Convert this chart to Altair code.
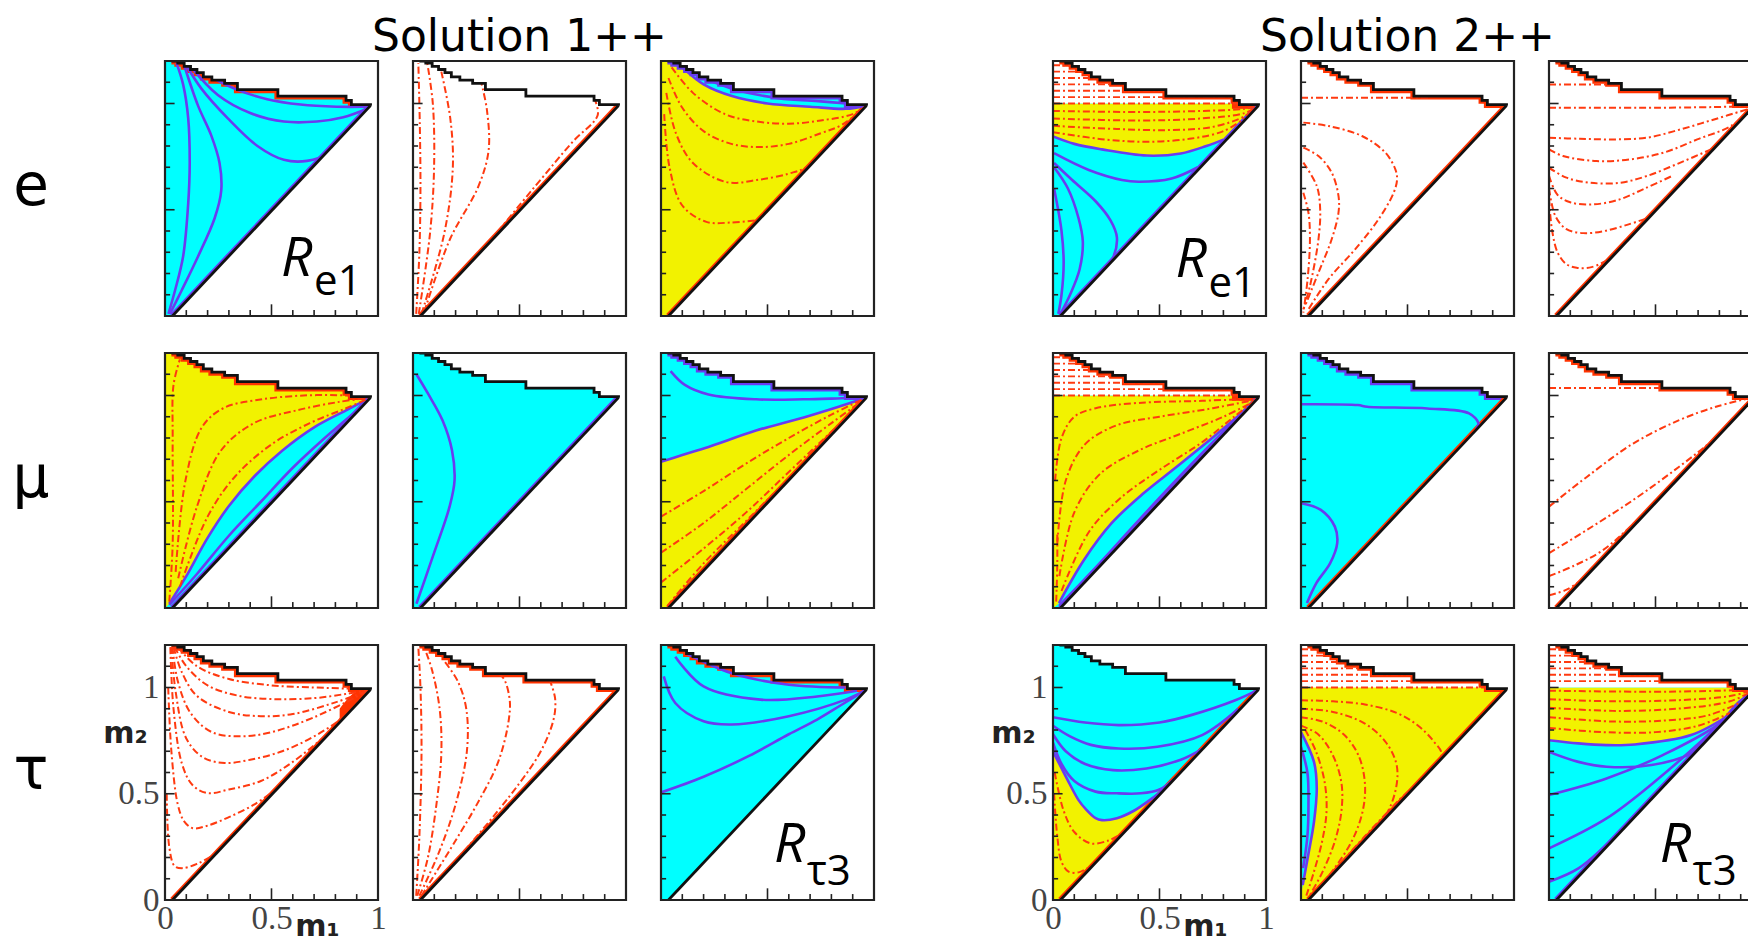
import altair as alt
import pandas as pd

# ---------------- kinematic region shared by every panel (data coords) ----------------
TOP_X = [0.03, 0.06, 0.09, 0.12, 0.15, 0.18, 0.22, 0.28, 0.34, 0.53, 0.85, 0.875, 0.965]
TOP_Y = [1.20, 1.19, 1.175, 1.16, 1.145, 1.125, 1.11, 1.095, 1.065, 1.035, 1.015, 0.995, 0.99]
DIAG_X = [0.035, 0.965]
DIAG_Y = [0.0, 0.99]
EDGE_X = [0.0, 0.035, 0.965, 0.966, 1.0]
EDGE_Y = [0.0, 0.0, 0.99, 1.2, 1.2]

X_MINOR = [0.1, 0.2, 0.3, 0.4, 0.6, 0.7, 0.8, 0.9]
X_MAJOR = [0.5]
Y_MINOR = [0.1, 0.2, 0.3, 0.4, 0.6, 0.7, 0.8, 0.9, 1.1]
Y_MAJOR = [0.5, 1.0]
AXIS_VALUES = [0, 0.5, 1]
STRIPES = [1.03, 1.06, 1.09, 1.12, 1.15, 1.18]

TITLES = ["Solution 1++", "Solution 2++"]
ROW_LABELS = ["e", "μ", "τ"]

# ---------------- Solution 1++ ----------------
S1_E1_BLUE = [
    [(0.016, 0.01), (0.047, 0.12), (0.085, 0.28), (0.109, 0.53), (0.116, 0.72), (0.109, 0.93), (0.085, 1.09), (0.054, 1.19)],
    [(0.023, 0.01), (0.078, 0.12), (0.155, 0.28), (0.233, 0.46), (0.264, 0.59), (0.256, 0.72), (0.217, 0.85), (0.155, 0.99), (0.09, 1.18)],
    [(0.10, 1.18), (0.171, 1.07), (0.295, 0.93), (0.434, 0.80), (0.558, 0.735), (0.667, 0.73), (0.76, 0.765), (0.80, 0.82)],
    [(0.124, 1.17), (0.248, 1.04), (0.40, 0.955), (0.558, 0.915), (0.713, 0.915), (0.837, 0.935), (0.95, 0.975)],
    [(0.17, 1.15), (0.326, 1.07), (0.48, 1.02), (0.636, 0.995), (0.806, 0.985), (0.95, 0.985)],
]
S1_E2_RED = [
    [(0.015, 0.01), (0.03, 0.3), (0.035, 0.6), (0.032, 0.9), (0.025, 1.19)],
    [(0.027, 0.01), (0.08, 0.39), (0.099, 0.70), (0.093, 1.0), (0.067, 1.19)],
    [(0.04, 0.01), (0.147, 0.39), (0.187, 0.70), (0.175, 0.93), (0.133, 1.15)],
    [(0.053, 0.02), (0.173, 0.36), (0.307, 0.61), (0.355, 0.78), (0.347, 0.97), (0.32, 1.1)],
    [(0.067, 0.03), (0.307, 0.29), (0.573, 0.61), (0.75, 0.82), (0.867, 0.945), (0.853, 1.02)],
]
S1_E3_FILL = [("cyan", "v", [(0.10, 1.17, 1.2), (0.2, 1.09, 1.2), (0.333, 1.035, 1.2), (0.5, 1.0, 1.2),
                             (0.7, 0.985, 1.2), (0.867, 0.975, 1.2), (0.965, 0.99, 1.2)])]
S1_E3_BLUE = [
    [(0.10, 1.17), (0.2, 1.09), (0.333, 1.035), (0.5, 1.0), (0.7, 0.985), (0.867, 0.975), (0.965, 0.99)],
    [(0.2, 1.12), (0.35, 1.065), (0.55, 1.025), (0.75, 1.01), (0.87, 1.0)],
]
S1_E3_RED = [
    [(0.05, 1.17), (0.15, 1.05), (0.3, 0.95), (0.45, 0.915), (0.6, 0.905), (0.75, 0.92), (0.9, 0.95), (0.965, 0.99)],
    [(0.035, 1.12), (0.1, 0.98), (0.2, 0.87), (0.33, 0.81), (0.467, 0.795), (0.6, 0.81), (0.75, 0.86), (0.85, 0.9), (0.965, 0.99)],
    [(0.025, 1.05), (0.07, 0.86), (0.15, 0.72), (0.307, 0.63), (0.45, 0.64), (0.6, 0.67), (0.7, 0.71), (0.965, 0.99)],
    [(0.015, 0.95), (0.04, 0.7), (0.1, 0.52), (0.213, 0.443), (0.33, 0.44), (0.45, 0.45)],
]
S1_M1_FILL = [("cyan", "v", [(0.0, 0.0, 0.0), (0.02, 0.0, 0.02), (0.1, 0.0, 0.15), (0.2, 0.0, 0.33), (0.3, 0.0, 0.48),
                             (0.42, 0.0, 0.62), (0.55, 0.0, 0.74), (0.7, 0.0, 0.85), (0.85, 0.0, 0.93), (0.965, 0.0, 0.99)])]
S1_M1_BLUE = [
    [(0.02, 0.02), (0.1, 0.15), (0.2, 0.33), (0.3, 0.48), (0.42, 0.62), (0.55, 0.74), (0.7, 0.85), (0.85, 0.93), (0.965, 0.99)],
    [(0.02, 0.015), (0.15, 0.16), (0.3, 0.34), (0.45, 0.5), (0.6, 0.66), (0.75, 0.8), (0.9, 0.93), (0.965, 0.99)],
]
S1_M1_RED = [
    [(0.02, 0.03), (0.036, 0.3), (0.036, 0.8), (0.04, 1.05), (0.07, 1.17)],
    [(0.05, 0.17), (0.096, 0.60), (0.173, 0.85), (0.273, 0.94), (0.44, 0.98), (0.65, 1.0), (0.85, 1.0), (0.965, 0.99)],
    [(0.062, 0.14), (0.151, 0.48), (0.262, 0.74), (0.418, 0.87), (0.618, 0.93), (0.818, 0.97), (0.965, 0.99)],
    [(0.07, 0.1), (0.2, 0.43), (0.33, 0.62), (0.5, 0.77), (0.68, 0.87), (0.85, 0.94), (0.965, 0.99)],
]
S1_M2_BLUE = [
    [(0.016, 0.02), (0.094, 0.245), (0.172, 0.478), (0.195, 0.60), (0.183, 0.742), (0.139, 0.882), (0.072, 1.006), (0.016, 1.10)],
]
S1_M3_FILL = [("cyan", "v", [(0.0, 0.688, 1.2), (0.1, 0.72, 1.2), (0.223, 0.758, 1.2), (0.446, 0.835, 1.2),
                             (0.67, 0.897, 1.2), (0.848, 0.952, 1.2), (0.965, 0.99, 1.2)])]
S1_M3_BLUE = [
    [(0.0, 0.688), (0.1, 0.72), (0.223, 0.758), (0.446, 0.835), (0.67, 0.897), (0.848, 0.952), (0.965, 0.99)],
    [(0.045, 1.115), (0.112, 1.05), (0.223, 1.005), (0.446, 0.982), (0.67, 0.982), (0.848, 0.987), (0.95, 0.99)],
]
S1_M3_RED = [
    [(0.0, 0.43), (0.2, 0.55), (0.4, 0.68), (0.6, 0.80), (0.8, 0.91), (0.965, 0.99)],
    [(0.0, 0.26), (0.2, 0.40), (0.4, 0.56), (0.6, 0.72), (0.8, 0.87), (0.965, 0.99)],
    [(0.0, 0.12), (0.2, 0.28), (0.4, 0.45), (0.6, 0.64), (0.8, 0.83), (0.965, 0.99)],
    [(0.03, 0.01), (0.2, 0.21), (0.4, 0.41), (0.6, 0.61), (0.8, 0.81), (0.965, 0.99)],
]
S1_T1_FILL = [("red", "v", [(0.82, 0.84, 0.9), (0.88, 0.9, 0.97), (0.93, 0.95, 0.995), (0.965, 0.99, 0.99)])]
S1_T1_RED = [
    [(0.06, 1.19), (0.15, 1.1), (0.3, 1.04), (0.5, 1.01), (0.7, 1.0), (0.85, 0.995), (0.965, 0.99)],
    [(0.045, 1.19), (0.1, 1.1), (0.2, 1.01), (0.35, 0.96), (0.52, 0.945), (0.7, 0.95), (0.85, 0.97), (0.965, 0.99)],
    [(0.04, 1.19), (0.08, 1.07), (0.15, 0.96), (0.3, 0.885), (0.45, 0.865), (0.6, 0.875), (0.8, 0.93), (0.965, 0.99)],
    [(0.035, 1.19), (0.06, 1.03), (0.12, 0.88), (0.22, 0.79), (0.36, 0.77), (0.5, 0.79), (0.7, 0.86), (0.965, 0.99)],
    [(0.03, 1.19), (0.05, 0.98), (0.1, 0.76), (0.18, 0.67), (0.28, 0.645), (0.4, 0.66), (0.55, 0.7), (0.7, 0.77), (0.85, 0.87), (0.965, 0.99)],
    [(0.025, 1.19), (0.04, 0.9), (0.08, 0.64), (0.13, 0.54), (0.2, 0.503), (0.3, 0.52), (0.45, 0.56), (0.6, 0.65), (0.75, 0.77)],
    [(0.015, 1.0), (0.03, 0.7), (0.06, 0.45), (0.09, 0.37), (0.13, 0.338), (0.2, 0.35), (0.3, 0.39), (0.42, 0.45), (0.52, 0.52)],
    [(0.008, 0.5), (0.02, 0.25), (0.045, 0.16), (0.08, 0.15), (0.15, 0.17), (0.25, 0.23), (0.3, 0.29)],
]
S1_T2_RED = [
    [(0.015, 0.02), (0.03, 0.3), (0.04, 0.7), (0.035, 1.0), (0.025, 1.19)],
    [(0.02, 0.02), (0.07, 0.2), (0.11, 0.45), (0.133, 0.69), (0.125, 0.9), (0.09, 1.08), (0.06, 1.17)],
    [(0.03, 0.02), (0.12, 0.22), (0.2, 0.45), (0.253, 0.7), (0.25, 0.9), (0.21, 1.03), (0.15, 1.12)],
    [(0.04, 0.02), (0.2, 0.28), (0.3, 0.45), (0.4, 0.65), (0.45, 0.85), (0.453, 0.95), (0.42, 1.05), (0.35, 1.09)],
    [(0.05, 0.02), (0.3, 0.3), (0.5, 0.55), (0.6, 0.7), (0.66, 0.85), (0.667, 0.95), (0.64, 1.04)],
]
S1_T3_BLUE = [
    [(0.0, 0.506), (0.2, 0.58), (0.413, 0.678), (0.6, 0.78), (0.733, 0.849), (0.85, 0.92), (0.965, 0.99)],
    [(0.013, 1.052), (0.067, 0.927), (0.2, 0.841), (0.333, 0.826), (0.6, 0.865), (0.867, 0.943), (0.965, 0.99)],
    [(0.067, 1.145), (0.2, 1.005), (0.467, 0.943), (0.733, 0.958), (0.92, 0.985)],
    [(0.12, 1.16), (0.333, 1.067), (0.6, 1.013), (0.867, 1.0)],
]

# ---------------- Solution 2++ ----------------
S2_E1_FILL = [
    ("yellow", "v", [(0.0, 0.845, 1.0), (0.1, 0.81, 1.0), (0.23, 0.784, 1.0), (0.44, 0.755, 1.0), (0.6, 0.765, 1.0),
                     (0.72, 0.8, 1.0), (0.8, 0.83, 1.0), (0.965, 0.99, 1.0)]),
    ("white", "v", [(0.0, 1.0, 1.2), (1.0, 1.0, 1.2)]),
    ("red", "v", [(0.84, 0.975, 1.04), (0.97, 0.975, 1.04)]),
]
S2_E1_BLUE = [
    [(0.0, 0.845), (0.1, 0.81), (0.23, 0.784), (0.44, 0.755), (0.6, 0.765), (0.72, 0.8), (0.8, 0.83)],
    [(0.005, 0.766), (0.168, 0.687), (0.324, 0.64), (0.402, 0.632), (0.557, 0.647), (0.68, 0.7)],
    [(0.005, 0.72), (0.09, 0.64), (0.2, 0.54), (0.27, 0.45), (0.3, 0.37), (0.28, 0.27), (0.2, 0.17), (0.1, 0.07), (0.04, 0.01)],
    [(0.005, 0.70), (0.07, 0.6), (0.12, 0.46), (0.14, 0.35), (0.125, 0.22), (0.08, 0.1), (0.035, 0.01)],
    [(0.005, 0.6), (0.04, 0.4), (0.05, 0.25), (0.04, 0.1), (0.025, 0.01)],
]
S2_E1_RED = [
    [(0.0, 1.0), (0.9, 1.0)],
    [(0.0, 0.965), (0.4, 0.96), (0.7, 0.965), (0.9, 0.975), (0.965, 0.99)],
    [(0.0, 0.93), (0.4, 0.92), (0.7, 0.93), (0.9, 0.955), (0.965, 0.99)],
    [(0.0, 0.895), (0.3, 0.88), (0.55, 0.875), (0.75, 0.89), (0.9, 0.94), (0.965, 0.99)],
    [(0.0, 0.865), (0.25, 0.83), (0.45, 0.82), (0.65, 0.835), (0.8, 0.87), (0.9, 0.93)],
]
S2_E2_RED = [
    [(0.0, 1.027), (0.6, 1.027)],
    [(0.011, 0.91), (0.129, 0.894), (0.286, 0.847), (0.396, 0.769), (0.443, 0.69), (0.451, 0.643), (0.435, 0.58),
     (0.364, 0.455), (0.254, 0.314), (0.129, 0.173), (0.035, 0.031)],
    [(0.011, 0.792), (0.082, 0.753), (0.144, 0.675), (0.176, 0.565), (0.176, 0.486), (0.144, 0.361), (0.082, 0.204), (0.019, 0.047)],
    [(0.011, 0.722), (0.074, 0.612), (0.09, 0.502), (0.082, 0.361), (0.042, 0.141), (0.011, 0.031)],
    [(0.011, 0.58), (0.035, 0.486), (0.042, 0.361), (0.031, 0.173), (0.011, 0.016)],
]
S2_E3_RED = [
    [(0.0, 0.98), (0.5, 0.98), (0.85, 0.985), (0.965, 0.99)],
    [(0.0, 1.09), (0.3, 1.09)],
    [(0.0, 0.839), (0.145, 0.834), (0.302, 0.831), (0.46, 0.839), (0.617, 0.878), (0.775, 0.925), (0.932, 0.973)],
    [(0.0, 0.784), (0.066, 0.753), (0.224, 0.729), (0.381, 0.737), (0.539, 0.769), (0.696, 0.831), (0.854, 0.894), (0.964, 0.985)],
    [(0.0, 0.698), (0.082, 0.651), (0.192, 0.627), (0.334, 0.627), (0.46, 0.659), (0.617, 0.722), (0.775, 0.79)],
    [(0.0, 0.66), (0.04, 0.57), (0.1, 0.535), (0.2, 0.525), (0.32, 0.545), (0.45, 0.6), (0.58, 0.66)],
    [(0.0, 0.6), (0.03, 0.47), (0.08, 0.41), (0.16, 0.39), (0.26, 0.4), (0.37, 0.43), (0.46, 0.46)],
    [(0.0, 0.55), (0.015, 0.4), (0.04, 0.3), (0.08, 0.245), (0.13, 0.227), (0.2, 0.23), (0.27, 0.26)],
]
S2_M1_FILL = [
    ("yellow", "v", [(0.0, 0.0, 1.0), (0.028, 0.023, 1.0), (0.146, 0.227, 1.0), (0.275, 0.399, 1.0), (0.425, 0.54, 1.0),
                     (0.575, 0.66, 1.0), (0.747, 0.80, 1.0), (0.876, 0.91, 1.0), (0.965, 0.99, 1.0)]),
    ("white", "v", [(0.0, 1.0, 1.2), (1.0, 1.0, 1.2)]),
    ("red", "v", [(0.84, 0.975, 1.04), (0.97, 0.975, 1.04)]),
]
S2_M1_BLUE = [
    [(0.028, 0.023), (0.146, 0.227), (0.275, 0.399), (0.425, 0.54), (0.575, 0.66), (0.747, 0.80), (0.876, 0.91), (0.965, 0.99)],
    [(0.03, 0.012), (0.2, 0.19), (0.4, 0.41), (0.6, 0.625), (0.8, 0.83), (0.965, 0.99)],
]
S2_M1_RED = [
    [(0.0, 1.0), (0.9, 1.0)],
    [(0.01, 0.6), (0.04, 0.8), (0.1, 0.9), (0.2, 0.94), (0.4, 0.965), (0.7, 0.975), (0.95, 0.985)],
    [(0.02, 0.3), (0.06, 0.6), (0.15, 0.77), (0.3, 0.86), (0.5, 0.9), (0.75, 0.94), (0.95, 0.98)],
    [(0.03, 0.15), (0.1, 0.45), (0.22, 0.63), (0.4, 0.74), (0.6, 0.82), (0.8, 0.9), (0.95, 0.975)],
    [(0.04, 0.08), (0.17, 0.36), (0.32, 0.52), (0.5, 0.65), (0.7, 0.78), (0.85, 0.9), (0.965, 0.99)],
    [(0.015, 0.03), (0.02, 0.2), (0.02, 0.35)],
]
S2_M2_BLUE = [
    [(0.0, 0.959), (0.267, 0.955), (0.311, 0.947), (0.593, 0.939), (0.789, 0.916), (0.833, 0.869), (0.822, 0.842)],
    [(0.0, 0.493), (0.093, 0.462), (0.159, 0.383), (0.17, 0.305), (0.137, 0.211), (0.072, 0.117), (0.028, 0.023)],
]
S2_M3_RED = [
    [(0.0, 1.035), (0.55, 1.035)],
    [(0.0, 0.477), (0.179, 0.618), (0.395, 0.774), (0.611, 0.884), (0.784, 0.947), (0.935, 0.986)],
    [(0.0, 0.258), (0.179, 0.368), (0.395, 0.508), (0.611, 0.665), (0.78, 0.8), (0.93, 0.955)],
    [(0.0, 0.15), (0.12, 0.2), (0.25, 0.27), (0.4, 0.4), (0.6, 0.6), (0.8, 0.82), (0.95, 0.975)],
    [(0.0, 0.06), (0.08, 0.085), (0.15, 0.13)],
]
S2_T1_FILL = [("yellow", "v", [(0.0, 0.0, 0.70), (0.04, 0.0, 0.62), (0.073, 0.0, 0.556), (0.12, 0.0, 0.47), (0.151, 0.0, 0.431),
                               (0.2, 0.0, 0.385), (0.23, 0.0, 0.376), (0.3, 0.0, 0.385), (0.38, 0.0, 0.42), (0.465, 0.0, 0.478),
                               (0.52, 0.0, 0.52)])]
S2_T1_BLUE = [
    [(0.0, 0.70), (0.04, 0.62), (0.073, 0.556), (0.12, 0.47), (0.151, 0.431), (0.2, 0.385), (0.23, 0.376), (0.3, 0.385),
     (0.38, 0.42), (0.465, 0.478), (0.52, 0.52)],
    [(0.0, 0.86), (0.15, 0.835), (0.308, 0.823), (0.5, 0.835), (0.648, 0.87), (0.856, 0.94), (0.965, 0.99)],
    [(0.0, 0.82), (0.08, 0.77), (0.178, 0.73), (0.308, 0.713), (0.49, 0.721), (0.7, 0.776), (0.87, 0.9)],
    [(0.0, 0.78), (0.06, 0.7), (0.151, 0.64), (0.282, 0.611), (0.439, 0.619), (0.6, 0.66), (0.7, 0.71)],
    [(0.0, 0.74), (0.04, 0.64), (0.1, 0.56), (0.2, 0.51), (0.3, 0.502), (0.413, 0.502), (0.5, 0.52), (0.57, 0.57)],
]
S2_T1_RED = [
    [(0.008, 0.6), (0.05, 0.42), (0.1, 0.32), (0.178, 0.266), (0.26, 0.28), (0.32, 0.31)],
    [(0.005, 0.5), (0.02, 0.3), (0.04, 0.18), (0.073, 0.133), (0.12, 0.13), (0.16, 0.15)],
]
S2_T2_FILL = [
    ("white", "v", [(0.0, 1.0, 1.2), (1.0, 1.0, 1.2)]),
    ("cyan", "h", [(0.02, 0.0, 0.0), (0.07, 0.0, 0.008), (0.212, 0.0, 0.034), (0.368, 0.0, 0.061), (0.525, 0.0, 0.074),
                   (0.65, 0.0, 0.061), (0.79, 0.0, 0.0)]),
]
S2_T2_BLUE = [
    [(0.0, 0.79), (0.061, 0.65), (0.074, 0.525), (0.061, 0.368), (0.034, 0.212), (0.008, 0.07)],
    [(0.0, 0.72), (0.03, 0.6), (0.035, 0.45), (0.03, 0.3), (0.01, 0.15)],
]
S2_T2_RED = [
    [(0.0, 1.0), (0.9, 1.0)],
    [(0.0, 0.94), (0.15, 0.935), (0.3, 0.92), (0.45, 0.88), (0.55, 0.82), (0.62, 0.75), (0.66, 0.68), (0.45, 0.46), (0.3, 0.3), (0.05, 0.02)],
    [(0.0, 0.9), (0.15, 0.885), (0.3, 0.83), (0.4, 0.74), (0.45, 0.63), (0.44, 0.5), (0.38, 0.37), (0.26, 0.25), (0.14, 0.11), (0.05, 0.02)],
    [(0.0, 0.86), (0.1, 0.84), (0.2, 0.78), (0.27, 0.68), (0.3, 0.55), (0.29, 0.42), (0.24, 0.28), (0.15, 0.14), (0.05, 0.02)],
    [(0.0, 0.82), (0.08, 0.78), (0.15, 0.68), (0.19, 0.55), (0.19, 0.42), (0.16, 0.28), (0.1, 0.13), (0.04, 0.02)],
    [(0.02, 0.8), (0.07, 0.7), (0.11, 0.56), (0.12, 0.42), (0.1, 0.28), (0.06, 0.13), (0.025, 0.02)],
]
S2_T3_FILL = [
    ("yellow", "v", [(0.0, 0.752, 1.0), (0.138, 0.737, 1.0), (0.27, 0.729, 1.0), (0.402, 0.732, 1.0), (0.667, 0.776, 1.0),
                     (0.852, 0.874, 1.0), (0.965, 0.99, 1.0)]),
    ("white", "v", [(0.0, 1.0, 1.2), (1.0, 1.0, 1.2)]),
    ("blue", "v", [(0.8, 0.8, 0.83), (0.88, 0.88, 0.93), (0.965, 0.99, 0.99)]),
]
S2_T3_BLUE = [
    [(0.0, 0.752), (0.138, 0.737), (0.27, 0.729), (0.402, 0.732), (0.667, 0.776), (0.852, 0.874)],
    [(0.0, 0.697), (0.138, 0.65), (0.27, 0.627), (0.481, 0.635), (0.667, 0.69), (0.75, 0.76)],
    [(0.0, 0.494), (0.27, 0.572), (0.534, 0.682), (0.8, 0.83), (0.965, 0.99)],
    [(0.0, 0.243), (0.27, 0.384), (0.5, 0.56), (0.75, 0.78), (0.965, 0.99)],
    [(0.0, 0.086), (0.14, 0.15), (0.3, 0.29), (0.5, 0.505), (0.75, 0.77), (0.965, 0.99)],
]
S2_T3_RED = [
    [(0.0, 0.985), (0.5, 0.98), (0.8, 0.985), (0.965, 0.99)],
    [(0.0, 0.945), (0.3, 0.935), (0.6, 0.94), (0.85, 0.96), (0.965, 0.99)],
    [(0.0, 0.905), (0.3, 0.89), (0.6, 0.9), (0.85, 0.935), (0.965, 0.99)],
    [(0.0, 0.86), (0.3, 0.84), (0.55, 0.845), (0.75, 0.87), (0.9, 0.93)],
    [(0.0, 0.81), (0.25, 0.79), (0.5, 0.79), (0.7, 0.82), (0.85, 0.88)],
]

# ---------------- styles & layout ----------------
COLORS = {"cyan": "#00FFFF", "yellow": "#F2F200", "white": "#FFFFFF", "red": "#FF3300", "blue": "#6A3CF0"}
RED_LINE = "#FF3A10"
BLUE_LINE = "#6A3CF0"
DASH = [7, 3, 2, 3]
PW, PH = 213, 255
LABEL_W, GAP_W, TITLE_H = 122, 109, 15
XS = alt.Scale(domain=[0, 1], nice=False, zero=False)
YS = alt.Scale(domain=[0, 1.2], nice=False, zero=False)

R_E1_1 = {"R": (0.545, 0.19), "sub": (0.70, 0.10), "text": "e1"}
R_E1_2 = {"R": (0.575, 0.185), "sub": (0.73, 0.09), "text": "e1"}
R_T3_1 = {"R": (0.53, 0.18), "sub": (0.685, 0.07), "text": "τ3"}
R_T3_2 = {"R": (0.52, 0.18), "sub": (0.675, 0.07), "text": "τ3"}

PANELS = [
    [  # row e
        dict(base="cyan", fills=[], blue=S1_E1_BLUE, red=[], stripes=False, ftop="red", fdiag="blue", rl=R_E1_1),
        dict(base="white", fills=[], blue=[], red=S1_E2_RED, stripes=False, ftop=None, fdiag="red"),
        dict(base="yellow", fills=S1_E3_FILL, blue=S1_E3_BLUE, red=S1_E3_RED, stripes=False, ftop="blue", fdiag="red"),
        dict(base="cyan", fills=S2_E1_FILL, blue=S2_E1_BLUE, red=S2_E1_RED, stripes=True, ftop="red", fdiag="blue", rl=R_E1_2),
        dict(base="white", fills=[], blue=[], red=S2_E2_RED, stripes=False, ftop="red", fdiag="red"),
        dict(base="white", fills=[], blue=[], red=S2_E3_RED, stripes=False, ftop="red", fdiag="red"),
    ],
    [  # row mu
        dict(base="yellow", fills=S1_M1_FILL, blue=S1_M1_BLUE, red=S1_M1_RED, stripes=False, ftop="red", fdiag="blue"),
        dict(base="cyan", fills=[], blue=S1_M2_BLUE, red=[], stripes=False, ftop=None, fdiag="blue"),
        dict(base="yellow", fills=S1_M3_FILL, blue=S1_M3_BLUE, red=S1_M3_RED, stripes=False, ftop="blue", fdiag="red"),
        dict(base="cyan", fills=S2_M1_FILL, blue=S2_M1_BLUE, red=S2_M1_RED, stripes=True, ftop="red", fdiag="blue"),
        dict(base="cyan", fills=[], blue=S2_M2_BLUE, red=[], stripes=False, ftop="blue", fdiag="red"),
        dict(base="white", fills=[], blue=[], red=S2_M3_RED, stripes=False, ftop="red", fdiag="red"),
    ],
    [  # row tau
        dict(base="white", fills=S1_T1_FILL, blue=[], red=S1_T1_RED, stripes=False, ftop="red", fdiag="red", axes=True),
        dict(base="white", fills=[], blue=[], red=S1_T2_RED, stripes=False, ftop="red", fdiag="red"),
        dict(base="cyan", fills=[], blue=S1_T3_BLUE, red=[], stripes=False, ftop="red", fdiag=None, rl=R_T3_1),
        dict(base="cyan", fills=S2_T1_FILL, blue=S2_T1_BLUE, red=S2_T1_RED, stripes=False, ftop=None, fdiag="red", axes=True),
        dict(base="yellow", fills=S2_T2_FILL, blue=S2_T2_BLUE, red=S2_T2_RED, stripes=True, ftop="red", fdiag="red"),
        dict(base="cyan", fills=S2_T3_FILL, blue=S2_T3_BLUE, red=S2_T3_RED, stripes=True, ftop="red", fdiag="blue", rl=R_T3_2),
    ],
]


def curves_df(curves):
    rows = []
    for cid, pts in enumerate(curves):
        for i, (x, y) in enumerate(pts):
            rows.append({"cid": cid, "i": i, "x": x, "y": y})
    return pd.DataFrame(rows)


def build_panel(p):
    ax_x = ax_y = None
    if p.get("axes"):
        common = dict(values=AXIS_VALUES, format="~g", ticks=False, domain=False, grid=False,
                      labelFont="Liberation Serif", labelFontSize=33, labelColor="#444444",
                      labelFlush=False, labelOverlap=False, titleFont="DejaVu Sans", titleFontSize=30,
                      titleFontWeight="bold", titleColor="#222222", titleAngle=0, titleAlign="center")
        ax_x = alt.Axis(labelPadding=2, title="m₁", titleX=152, titleY=41, titleBaseline="bottom", **common)
        ax_y = alt.Axis(labelPadding=6, title="m₂", titleX=-40, titleY=88, titleBaseline="middle", **common)

    def X(f):
        return alt.X(f, type="quantitative", scale=XS, axis=ax_x)

    def Y(f):
        return alt.Y(f, type="quantitative", scale=YS, axis=ax_y)

    def line_layer(curves, color, width, dash=None, interp="catmull-rom"):
        kw = dict(color=color, strokeWidth=width, interpolate=interp, clip=True)
        if dash:
            kw["strokeDash"] = dash
        return alt.Chart(curves_df(curves)).mark_line(**kw).encode(
            x=X("x"), y=Y("y"), detail="cid:N", order="i:Q")

    layers = []
    base = pd.DataFrame({"x": [0.0, 1.0], "lo": [0.0, 0.0], "hi": [1.2, 1.2]})
    layers.append(alt.Chart(base).mark_area(color=COLORS[p["base"]]).encode(x=X("x"), y=Y("lo"), y2="hi"))
    for color, orient, pts in p["fills"]:
        if orient == "v":
            df = pd.DataFrame(pts, columns=["x", "lo", "hi"])
            layers.append(alt.Chart(df).mark_area(color=COLORS[color], interpolate="catmull-rom", clip=True)
                          .encode(x=X("x"), y=Y("lo"), y2="hi"))
        else:
            df = pd.DataFrame(pts, columns=["y", "lo", "hi"])
            layers.append(alt.Chart(df).mark_area(color=COLORS[color], orient="horizontal",
                                                  interpolate="catmull-rom", clip=True)
                          .encode(y=Y("y"), x=X("lo"), x2="hi"))
    top_pts = [list(zip(TOP_X, TOP_Y))]
    diag_pts = [list(zip(DIAG_X, DIAG_Y))]
    if p["ftop"]:
        layers.append(line_layer(top_pts, COLORS[p["ftop"]], 7, interp="step-after"))
    if p["fdiag"]:
        layers.append(line_layer(diag_pts, COLORS[p["fdiag"]], 6, interp="linear"))
    if p["stripes"]:
        layers.append(line_layer([[(0.0, s), (0.92, s)] for s in STRIPES], RED_LINE, 1.9, dash=DASH, interp="linear"))
    if p["blue"]:
        layers.append(line_layer(p["blue"], BLUE_LINE, 2.6))
    if p["red"]:
        layers.append(line_layer(p["red"], RED_LINE, 2.0, dash=DASH))
    # white masks outside the kinematic region
    top_mask = pd.DataFrame({"x": TOP_X + [1.0], "lo": TOP_Y + [TOP_Y[-1]], "hi": [1.2] * (len(TOP_X) + 1)})
    layers.append(alt.Chart(top_mask).mark_area(color="white", interpolate="step-after")
                  .encode(x=X("x"), y=Y("lo"), y2="hi"))
    edge_mask = pd.DataFrame({"x": EDGE_X, "lo": [0.0] * len(EDGE_X), "hi": EDGE_Y})
    layers.append(alt.Chart(edge_mask).mark_area(color="white").encode(x=X("x"), y=Y("lo"), y2="hi"))
    # region boundary
    layers.append(line_layer(top_pts, "#111111", 2.8, interp="step-after"))
    layers.append(line_layer(diag_pts, "#111111", 2.8, interp="linear"))
    # inward ticks
    for vals, ln in ((X_MINOR, 0.028), (X_MAJOR, 0.055)):
        d = pd.DataFrame({"v": vals, "a": 0.0, "b": ln})
        layers.append(alt.Chart(d).mark_rule(color="#222222", strokeWidth=1.6).encode(x=X("v"), y=Y("a"), y2="b"))
    for vals, ln in ((Y_MINOR, 0.024), (Y_MAJOR, 0.045)):
        d = pd.DataFrame({"v": vals, "a": 0.0, "b": ln})
        layers.append(alt.Chart(d).mark_rule(color="#222222", strokeWidth=1.6).encode(y=Y("v"), x=X("a"), x2="b"))
    # frame
    frame = pd.DataFrame({"x0": [0.0], "x1": [1.0], "y0": [0.0], "y1": [1.2]})
    layers.append(alt.Chart(frame).mark_rect(filled=False, color="#222222", strokeWidth=2.2)
                  .encode(x=X("x0"), x2="x1", y=Y("y0"), y2="y1"))
    # R label
    rl = p.get("rl")
    if rl:
        d1 = pd.DataFrame({"x": [rl["R"][0]], "y": [rl["R"][1]], "t": ["R"]})
        layers.append(alt.Chart(d1).mark_text(align="left", baseline="alphabetic", font="Open Sans",
                                              fontStyle="italic", fontSize=55, color="black")
                      .encode(x=X("x"), y=Y("y"), text="t:N"))
        d2 = pd.DataFrame({"x": [rl["sub"][0]], "y": [rl["sub"][1]], "t": [rl["text"]]})
        layers.append(alt.Chart(d2).mark_text(align="left", baseline="alphabetic", font="Open Sans",
                                              fontSize=42, color="black")
                      .encode(x=X("x"), y=Y("y"), text="t:N"))
    return alt.layer(*layers).properties(width=PW, height=PH)


def text_cell(txt, w, h, x, y, size):
    return alt.Chart(pd.DataFrame({"t": [txt]})).mark_text(
        align="center", baseline="alphabetic", font="DejaVu Sans", fontSize=size, color="black"
    ).encode(text="t:N", x=alt.value(x), y=alt.value(y)).properties(width=w, height=h)


def blank(w, h):
    return text_cell("", w, h, w / 2, h / 2, 10)


cells = [
    blank(LABEL_W, TITLE_H), blank(PW, TITLE_H), text_cell(TITLES[0], PW, TITLE_H, PW / 2, 42, 44),
    blank(PW, TITLE_H), blank(GAP_W, TITLE_H), blank(PW, TITLE_H),
    text_cell(TITLES[1], PW, TITLE_H, PW / 2, 42, 44), blank(PW, TITLE_H),
]
for r in range(3):
    row = PANELS[r]
    cells.append(text_cell(ROW_LABELS[r], LABEL_W, PH, 23, 144, 58))
    cells += [build_panel(row[0]), build_panel(row[1]), build_panel(row[2])]
    cells.append(blank(GAP_W, PH))
    cells += [build_panel(row[3]), build_panel(row[4]), build_panel(row[5])]

chart = alt.concat(*cells, columns=8, spacing={"row": 37, "column": 35}, bounds="flush").properties(
    padding={"left": 0, "top": 0, "right": -16, "bottom": 0}
).configure_view(stroke=None)

chart.save("out.html", embed_options={"renderer": "svg", "actions": False})
